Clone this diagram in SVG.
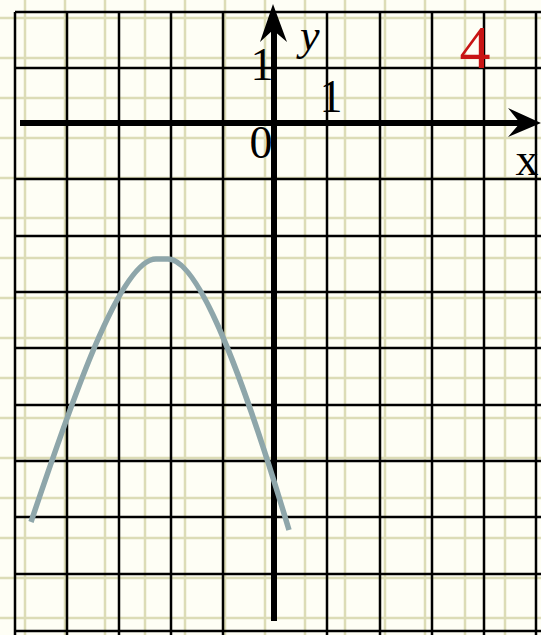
<svg xmlns="http://www.w3.org/2000/svg" width="541" height="635" viewBox="0 0 541 635">
<style>
.minor{stroke:#dcdcb6;stroke-width:2.5;fill:none}
.major{stroke:#000;stroke-width:2.5;fill:none}
.axis{stroke:#000;stroke-width:6;fill:none}
.num{font-family:"Liberation Serif","Times New Roman",serif;font-size:46px;fill:#000;text-anchor:middle}
</style>
<rect x="0" y="0" width="541" height="635" fill="#fefef5"/>
<g id="minor-grid" class="minor">
<path d="M25,0V635M65,0V635M105,0V635M145,0V635M185,0V635M225,0V635M265,0V635M305,0V635M345,0V635M385,0V635M425,0V635M465,0V635M505,0V635"/>
<path d="M0,18H541M0,58H541M0,98H541M0,138H541M0,178H541M0,218H541M0,258H541M0,298H541M0,338H541M0,378H541M0,418H541M0,458H541M0,498H541M0,538H541M0,578H541M0,618H541"/>
</g>
<g id="major-grid" class="major">
<path d="M15,12V635M67,12V635M119,12V635M171,12V635M223,12V635M327,12V635M380,12V635M432,12V635M484,12V635M536,12V635"/>
<path d="M15,12H541M15,68H541M15,179H541M15,236H541M15,292H541M15,348H541M15,405H541M15,461H541M15,517H541M15,574H541M15,631H541"/>
</g>
<g id="axes">
<line class="axis" x1="20" y1="123" x2="522" y2="123"/>
<polygon points="541,123 508,108 520,123 508,137" fill="#000"/>
<line class="axis" x1="274" y1="621" x2="274" y2="28"/>
<polygon points="273,4 260,42 273,30 287,42" fill="#000"/>
</g>
<g id="curve">
<path d="M31,522 C70,406 120,259 156,259 L168,259 C206,259 262,440 289,530" fill="none" stroke="#8ea6aa" stroke-width="5.5"/>
</g>
<g id="labels">
<text class="num" x="262" y="80">1</text>
<text class="num" x="331" y="112">1</text>
<text class="num" x="261" y="158">0</text>
<text x="300" y="50" font-family="Liberation Serif, Times New Roman, serif" font-style="italic" font-size="44" fill="#000">y</text>
<text x="527" y="175" font-family="Liberation Serif, Times New Roman, serif" font-size="46" fill="#000" text-anchor="middle">x</text>
<text x="475" y="68" font-family="Liberation Serif, Times New Roman, serif" font-size="62" fill="#c81414" text-anchor="middle">4</text>
</g>
</svg>
